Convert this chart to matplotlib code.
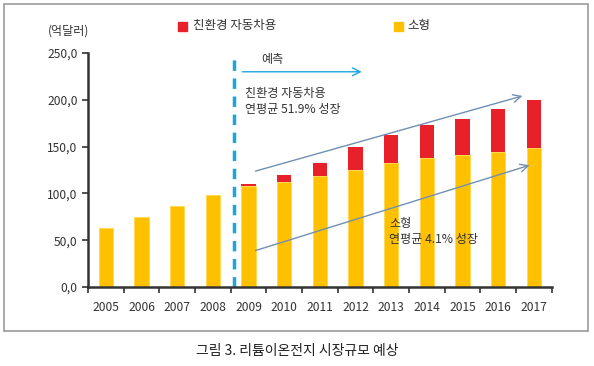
import numpy as np
import matplotlib.pyplot as plt
from matplotlib.patches import Rectangle

plt.rcParams['font.family'] = ['Noto Sans CJK KR', 'DejaVu Sans']

years = ["2005", "2006", "2007", "2008", "2009", "2010", "2011",
         "2012", "2013", "2014", "2015", "2016", "2017"]
small = [63, 75, 87, 98, 108, 112, 118.5, 125.5, 133, 137.5, 141, 144, 149]
ev = [0, 0, 0, 0, 2.5, 7.5, 13.5, 24, 29.5, 36, 39, 46, 51]
yticks = [0, 50, 100, 150, 200, 250]
ytick_labels = ["0,0", "50,0", "100,0", "150,0", "200,0", "250,0"]

yellow = "#ffc000"
red = "#e8202a"
blue = "#1ea5dc"
arrow_col = "#6f90b4"
txt = "#333333"

fig = plt.figure(figsize=(5.94, 3.66), dpi=100)
ax = fig.add_axes([0.148, 0.216, 0.781, 0.639])

x = np.arange(len(years))
ax.bar(x, small, width=0.4, color=yellow, edgecolor="#ffd84a", linewidth=0.6)
ax.bar(x, ev, width=0.4, bottom=small, color=red, linewidth=0)

ax.set_xlim(-0.5, len(years) - 0.5)
ax.set_ylim(0, 250)
ax.set_yticks(yticks)
ax.set_yticklabels(ytick_labels)
ax.set_xticks(x)
ax.set_xticklabels(years)
ax.set_xticks(np.arange(-0.5, len(years)), minor=True)
ax.tick_params(axis="x", which="major", length=0, pad=10, labelsize=8.7, labelcolor=txt)
ax.tick_params(axis="x", which="minor", length=4, width=1.2, direction="out", color="#333333")
ax.tick_params(axis="y", length=4, width=1.2, labelsize=8.7, labelcolor=txt, color="#333333")
for s in ["top", "right"]:
    ax.spines[s].set_visible(False)
ax.spines["left"].set_linewidth(1.8)
ax.spines["left"].set_color("#333333")
ax.spines["bottom"].set_linewidth(1.8)
ax.spines["bottom"].set_color("#333333")

# forecast divider
ax.plot([3.6, 3.6], [0, 250], color=blue, linestyle=(0, (3, 2.2)), linewidth=2.5, clip_on=False)
ax.annotate("", xy=(7.25, 230), xytext=(3.75, 230),
            arrowprops=dict(arrowstyle="->", color=blue, lw=1.0, mutation_scale=14))
ax.text(4.35, 243, "예측", fontsize=8.7, color=txt, va="center")

# growth arrows
ax.annotate("", xy=(11.75, 205), xytext=(4.12, 123),
            arrowprops=dict(arrowstyle="->", color=arrow_col, lw=1.0, mutation_scale=14))
ax.annotate("", xy=(11.95, 131), xytext=(4.12, 38),
            arrowprops=dict(arrowstyle="->", color=arrow_col, lw=1.0, mutation_scale=14))
ax.text(3.9, 198, "친환경 자동차용\n연평균 51.9% 성장", fontsize=8.7, color=txt,
        va="center", linespacing=1.3)
ax.text(7.95, 59, "소형\n연평균 4.1% 성장", fontsize=8.7, color=txt,
        va="center", linespacing=1.3)

# legend
fig.patches.append(Rectangle((178 / 594, 1 - 31 / 366), 9 / 594, 9 / 366,
                             transform=fig.transFigure, color=red))
fig.text(193 / 594, 1 - 26 / 366, "친환경 자동차용", fontsize=9, color=txt, va="center")
fig.patches.append(Rectangle((394 / 594, 1 - 31 / 366), 9 / 594, 9 / 366,
                             transform=fig.transFigure, color=yellow))
fig.text(407 / 594, 1 - 26 / 366, "소형", fontsize=9, color=txt, va="center")

fig.text(48 / 594, 1 - 31 / 366, "(억달러)", fontsize=8.7, color=txt, va="center")

# frame and caption
fig.patches.append(Rectangle((4 / 594, 1 - 331 / 366), 584 / 594, 327 / 366,
                             transform=fig.transFigure, fill=False,
                             edgecolor="#999999", linewidth=1.2))
fig.text(297 / 594, 1 - 351 / 366, "그림 3. 리튬이온전지 시장규모 예상",
         fontsize=10, color="#222222", ha="center", va="center")

fig.savefig("out.png", dpi=100)
